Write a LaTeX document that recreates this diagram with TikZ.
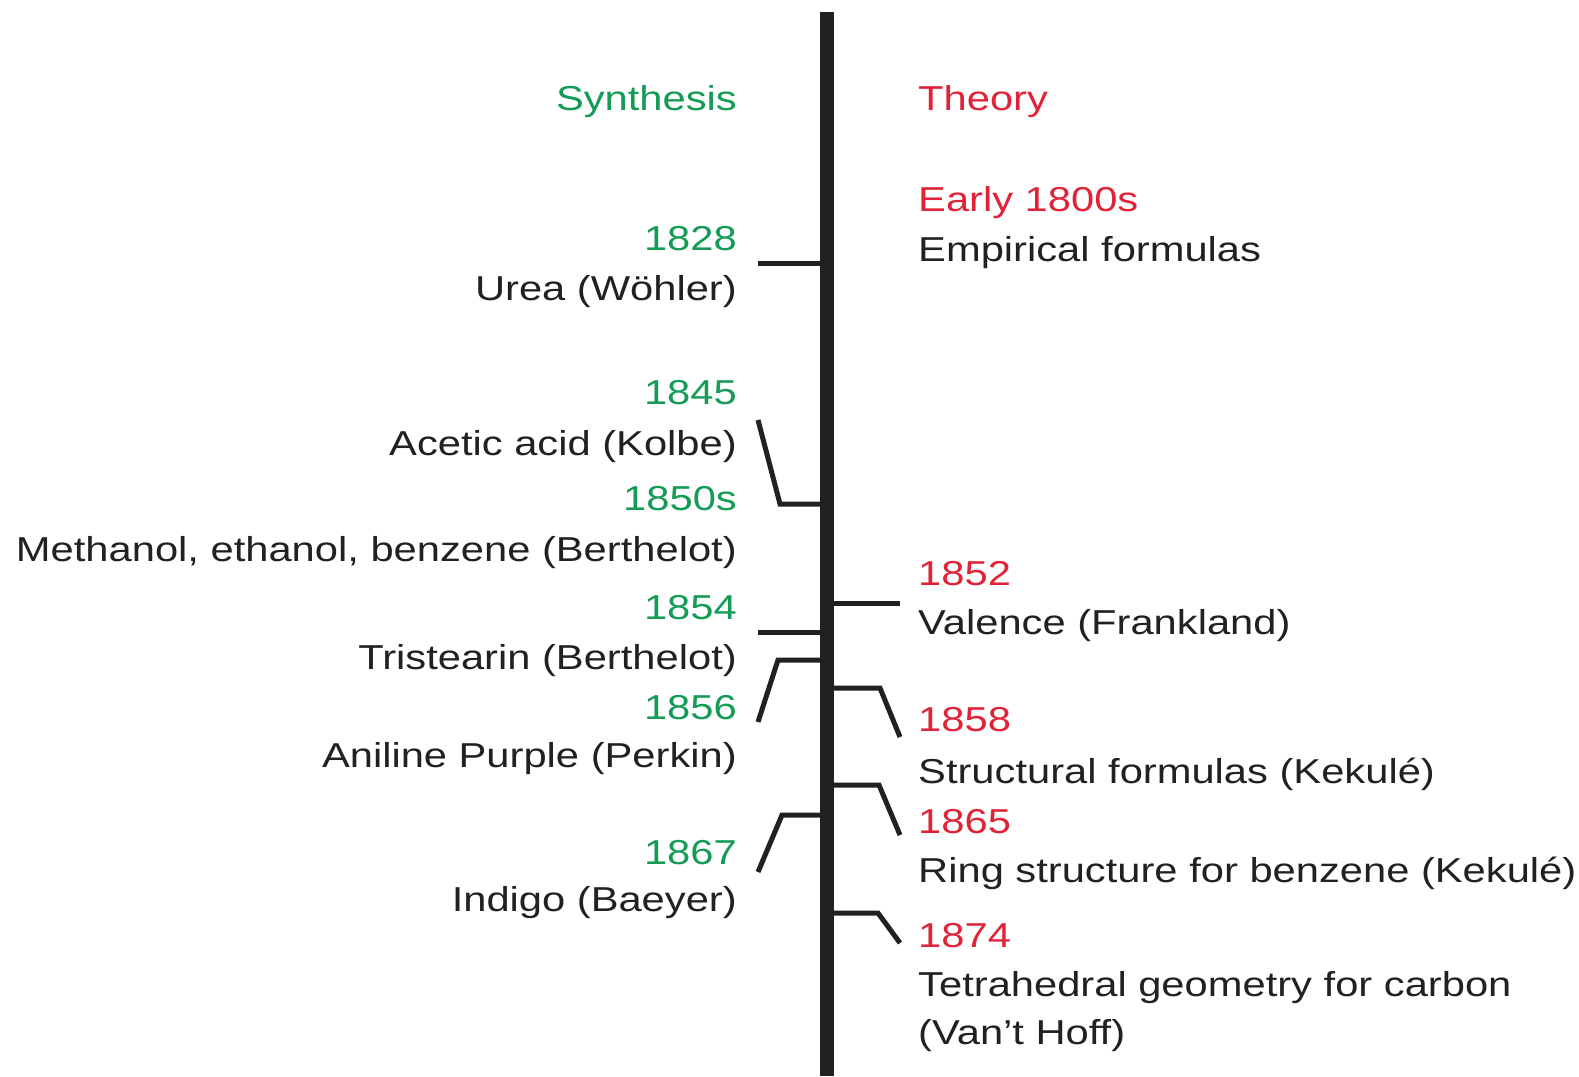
\documentclass[tikz,border=0pt]{standalone}
\usepackage{fontspec}
\setmainfont[FakeStretch=1.205]{Liberation Sans}
\definecolor{synth}{RGB}{20,155,85}
\definecolor{theo}{RGB}{225,35,55}
\definecolor{ink}{RGB}{35,32,33}
\begin{document}
\begin{tikzpicture}[x=1pt,y=-1pt,
  lab/.style={inner sep=0pt,font=\fontsize{34.6}{40}\selectfont},
  lt/.style={lab,anchor=base east},
  rt/.style={lab,anchor=base west},
  gr/.style={text=synth},
  rd/.style={text=theo},
  bk/.style={text=ink},
  conn/.style={draw=ink,line width=5pt,line join=miter}]
\useasboundingbox (0,0) rectangle (1579,1076);
% spine
\coordinate (top) at (827,12);
\coordinate (bot) at (827,1076);
\draw[ink,line width=14pt] (top) -- (bot);
% headers
\node[lt,gr] (hs) at (737,110) {Synthesis};
\node[rt,rd] (ht) at (918,110) {Theory};
% left side
\node[lt,gr] (y1828) at (737,250) {1828};
\node[lt,bk] (urea) at (737,300) {Urea (Wöhler)};
\node[lt,gr] (y1845) at (737,404) {1845};
\node[lt,bk] (acet) at (737,455) {Acetic acid (Kolbe)};
\node[lt,gr] (y1850) at (737,510) {1850s};
\node[lt,bk] (meth) at (737,561) {Methanol, ethanol, benzene (Berthelot)};
\node[lt,gr] (y1854) at (737,619) {1854};
\node[lt,bk] (tris) at (737,669) {Tristearin (Berthelot)};
\node[lt,gr] (y1856) at (737,719) {1856};
\node[lt,bk] (anil) at (737,767) {Aniline Purple (Perkin)};
\node[lt,gr] (y1867) at (737,864) {1867};
\node[lt,bk] (indi) at (737,911) {Indigo (Baeyer)};
% right side
\node[rt,rd] (early) at (918,211) {Early 1800s};
\node[rt,bk] (emp) at (918,261) {Empirical formulas};
\node[rt,rd] (y1852) at (918,585) {1852};
\node[rt,bk] (val) at (918,634) {Valence (Frankland)};
\node[rt,rd] (y1858) at (918,731) {1858};
\node[rt,bk] (struc) at (918,783) {Structural formulas (Kekulé)};
\node[rt,rd] (y1865) at (918,833) {1865};
\node[rt,bk] (ring) at (918,882) {Ring structure for benzene (Kekulé)};
\node[rt,rd] (y1874) at (918,947) {1874};
\node[rt,bk] (tetra) at (918,996) {Tetrahedral geometry for carbon};
\node[rt,bk] (vant) at (918,1044) {(Van’t Hoff)};
% connector anchor points on spine
\coordinate (sUrea) at (820,263);
\coordinate (sAcet) at (820,504);
\coordinate (sVal) at (834,603);
\coordinate (sTris) at (820,632);
\coordinate (sAnil) at (820,660);
\coordinate (sStruc) at (834,688);
\coordinate (sRing) at (834,785);
\coordinate (sIndi) at (820,815);
\coordinate (sTetra) at (834,913);
% free ends
\coordinate (eUrea) at (758,263);
\coordinate (eAcet) at (758,420);
\coordinate (eVal) at (900,603);
\coordinate (eTris) at (758,632);
\coordinate (eAnil) at (758,722);
\coordinate (eStruc) at (900,737);
\coordinate (eRing) at (900,835);
\coordinate (eIndi) at (758,872);
\coordinate (eTetra) at (900,943);
\draw[conn] (sUrea) -- (eUrea);
\draw[conn] (sAcet) -- (780,504) -- (eAcet);
\draw[conn] (sVal) -- (eVal);
\draw[conn] (sTris) -- (eTris);
\draw[conn] (sAnil) -- (778,660) -- (eAnil);
\draw[conn] (sStruc) -- (880,688) -- (eStruc);
\draw[conn] (sRing) -- (879,785) -- (eRing);
\draw[conn] (sIndi) -- (782,815) -- (eIndi);
\draw[conn] (sTetra) -- (878,913) -- (eTetra);
\end{tikzpicture}
\end{document}
